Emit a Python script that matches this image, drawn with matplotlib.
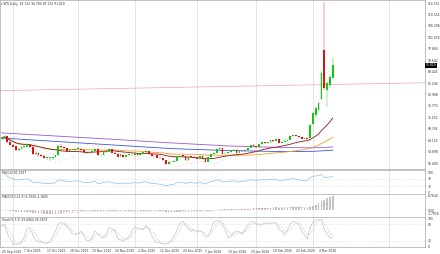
import matplotlib
matplotlib.use('Agg')
import matplotlib.pyplot as plt
import numpy as np
import pandas as pd

# Daily WTI bars
opens = [64.40, 65.00, 65.60, 63.40, 62.30, 61.80, 60.50, 60.90, 61.70, 61.70,
         62.50, 61.50, 58.90, 59.50, 58.70, 58.30, 57.50, 57.50, 57.50, 57.80,
         58.50, 61.80, 61.50, 61.30, 60.20, 60.50, 60.60, 61.00, 61.00, 60.60,
         59.60, 59.40, 59.80, 60.10, 61.00, 58.50, 58.70, 60.10, 59.90, 60.70,
         59.40, 59.10, 58.10, 58.80, 58.00, 58.60, 58.60, 58.60, 59.30, 58.60,
         58.90, 59.70, 60.10, 58.90, 58.20, 58.50, 57.60, 57.40, 56.80, 55.30,
         55.90, 56.10, 56.50, 58.00, 58.40, 58.30, 56.70, 58.10, 57.90, 57.40,
         57.30, 58.30, 57.10, 56.20, 57.80, 59.10, 59.50, 60.90, 61.20, 59.20,
         59.40, 59.60, 60.30, 60.60, 59.40, 60.10, 60.00, 60.60, 61.40, 62.30,
         62.00, 61.50, 62.60, 63.40, 62.90, 63.30, 64.00, 63.70, 64.40, 63.20,
         63.60, 63.90, 64.30, 65.50, 65.90, 65.60, 65.20, 64.60, 65.00, 64.80,
         70.20, 73.40, 75.40, 79.40, 97.40, 82.60, 84.40, 87.132]
highs = [65.30, 66.00, 65.80, 63.70, 62.60, 62.10, 61.30, 62.00, 62.20, 62.90,
         62.70, 61.80, 60.00, 59.70, 59.10, 58.60, 58.00, 57.90, 58.00, 58.70,
         62.40, 62.60, 61.90, 61.40, 60.80, 61.00, 61.20, 61.50, 61.10, 60.80,
         60.10, 60.00, 60.50, 61.30, 61.10, 59.10, 60.30, 60.30, 61.00, 60.80,
         59.90, 59.30, 59.00, 58.90, 58.90, 58.80, 59.10, 59.60, 59.40, 59.20,
         59.90, 60.40, 60.20, 59.10, 58.80, 58.60, 58.10, 57.70, 56.90, 56.30,
         56.60, 56.80, 58.20, 58.60, 58.70, 58.40, 58.30, 58.40, 58.10, 58.00,
         58.60, 58.40, 57.30, 57.90, 59.30, 59.80, 61.30, 61.60, 61.30, 59.70,
         59.90, 60.50, 60.90, 60.70, 60.40, 60.50, 60.90, 61.60, 62.50, 62.60,
         62.10, 62.80, 63.60, 63.60, 63.50, 64.20, 64.30, 64.60, 64.50, 63.80,
         64.10, 64.50, 65.70, 66.20, 66.10, 65.80, 65.40, 65.30, 65.20, 70.00,
         74.50, 76.40, 78.30, 89.60, 115.00, 86.00, 88.20, 94.78]
lows = [64.10, 64.70, 63.10, 61.90, 61.50, 60.30, 60.10, 60.70, 61.20, 61.50,
        61.20, 58.70, 58.50, 57.80, 57.90, 57.20, 56.90, 56.40, 56.90, 57.50,
        58.40, 61.20, 60.90, 59.90, 59.90, 60.00, 60.20, 60.70, 60.00, 59.30,
        59.10, 59.00, 59.60, 60.00, 58.30, 58.10, 58.40, 59.40, 59.60, 59.20,
        58.90, 57.80, 57.70, 57.60, 57.80, 58.30, 58.30, 58.40, 58.40, 58.30,
        58.80, 59.50, 58.70, 58.00, 57.90, 57.40, 57.20, 56.60, 55.00, 55.10,
        55.60, 55.90, 56.40, 57.70, 58.00, 56.50, 56.60, 57.60, 57.10, 57.00,
        57.10, 56.90, 55.80, 56.00, 57.60, 58.80, 59.30, 60.40, 58.90, 58.80,
        59.10, 59.30, 60.00, 59.10, 59.20, 59.60, 59.80, 60.40, 61.20, 61.70,
        61.10, 61.30, 62.40, 62.60, 62.60, 63.00, 63.40, 63.50, 63.00, 62.90,
        63.40, 63.60, 64.10, 65.20, 65.30, 64.90, 64.40, 64.40, 64.20, 64.60,
        69.80, 72.40, 74.80, 78.90, 82.80, 76.30, 83.50, 87.132]
closes = [64.98, 65.72, 63.45, 62.37, 61.78, 60.48, 60.88, 61.69, 61.73, 62.55,
          61.51, 58.90, 59.49, 58.70, 58.27, 57.46, 57.54, 57.52, 57.82, 58.50,
          61.79, 61.50, 61.31, 60.15, 60.48, 60.57, 60.98, 61.05, 60.56, 59.60,
          59.43, 59.75, 60.13, 61.04, 58.49, 58.69, 60.09, 59.91, 60.74, 59.44,
          59.14, 58.06, 58.84, 57.95, 58.65, 58.60, 58.55, 59.32, 58.64, 58.95,
          59.67, 60.08, 58.88, 58.25, 58.46, 57.60, 57.44, 56.82, 55.27, 55.94,
          56.15, 56.52, 58.01, 58.38, 58.35, 56.74, 58.08, 57.95, 57.42, 57.32,
          58.32, 57.13, 56.20, 57.76, 59.12, 59.50, 60.90, 61.20, 59.19, 59.44,
          59.60, 60.34, 60.62, 59.36, 60.10, 60.00, 60.60, 61.40, 62.30, 62.00,
          61.50, 62.60, 63.40, 62.90, 63.30, 64.00, 63.70, 64.40, 63.20, 63.60,
          63.90, 64.30, 65.50, 65.90, 65.60, 65.20, 64.60, 65.00, 64.60, 69.70,
          74.10, 76.00, 77.80, 88.90, 83.40, 85.20, 87.40, 91.829]

date_labels = ['25 Sep 2025', '7 Oct 2025', '17 Oct 2025', '28 Oct 2025', '10 Nov 2025',
               '20 Nov 2025', '2 Dec 2025', '12 Dec 2025', '24 Dec 2025', '7 Jan 2026',
               '19 Jan 2026', '29 Jan 2026', '10 Feb 2026', '20 Feb 2026', '4 Mar 2026']
label_idx = list(range(0, 113, 8))
month_starts = [4, 27, 47, 69, 90, 110, 137]

# long moving averages
ma_idx = [0, 20, 40, 60, 80, 100, 110, 117]
ma_blue = [64.9, 63.6, 62.3, 61.0, 60.3, 59.9, 60.0, 60.4]
ma_purple = [66.8, 65.6, 64.4, 63.1, 62.0, 61.4, 61.3, 61.6]
trend_idx = [-0.6, 149.6]
trend_val = [82.4, 85.3]

price_ticks = [55.68 + 4.218 * k for k in range(15)]

df = pd.DataFrame({'o': opens, 'h': highs, 'l': lows, 'c': closes})
x = np.arange(len(df))
c = df['c']

sma20 = c.rolling(20, min_periods=1).mean()
sma50 = c.rolling(50, min_periods=1).mean()


def psar(h, l, step=0.02, max_af=0.2):
    n = len(h)
    sar = np.zeros(n)
    up = False
    af = step
    ep = l[0]
    sar[0] = h[0]
    for i in range(1, n):
        s = sar[i - 1] + af * (ep - sar[i - 1])
        if up:
            s = min(s, l[i - 1], l[max(i - 2, 0)])
            if l[i] < s:
                up, s, ep, af = False, ep, l[i], step
            elif h[i] > ep:
                ep, af = h[i], min(af + step, max_af)
        else:
            s = max(s, h[i - 1], h[max(i - 2, 0)])
            if h[i] > s:
                up, s, ep, af = True, ep, h[i], step
            elif l[i] < ep:
                ep, af = l[i], min(af + step, max_af)
        sar[i] = s
    return sar


sar = psar(highs, lows)

delta = c.diff()
gain = delta.clip(lower=0).ewm(alpha=1 / 14, adjust=False).mean()
loss = (-delta).clip(lower=0).ewm(alpha=1 / 14, adjust=False).mean()
rsi = 100 - 100 / (1 + gain / loss)

macd = c.ewm(span=12, adjust=False).mean() - c.ewm(span=26, adjust=False).mean()
signal = macd.rolling(9, min_periods=1).mean()

ll = df['l'].rolling(5, min_periods=1).min()
hh = df['h'].rolling(5, min_periods=1).max()
stoch_k = 100 * (c - ll).rolling(3, min_periods=1).sum() / (hh - ll).rolling(3, min_periods=1).sum()
stoch_d = stoch_k.rolling(3, min_periods=1).mean()

W, H = 440, 254
fig = plt.figure(figsize=(W / 100, H / 100), dpi=100)
fs = 2.2
txt = '#333333'


def panel(top, bottom):
    ax = fig.add_axes([0, 1 - bottom / H, 425 / W, (bottom - top) / H])
    ax.set_xlim(-0.6, 149.6)
    for sp in ax.spines.values():
        sp.set_color('#a8a8a8')
        sp.set_linewidth(0.5)
    ax.yaxis.tick_right()
    ax.tick_params(axis='y', labelsize=fs, length=1, width=0.3, pad=0.8, colors=txt)
    ax.tick_params(axis='x', bottom=False, labelbottom=False)
    for m in month_starts:
        ax.axvline(m, color='#dadada', lw=0.5, zorder=0)
    return ax


# main price panel
ax = panel(0, 169)
ax.set_ylim(53.48, 115.84)
ax.set_yticks(price_ticks)
ax.set_yticklabels(['%.3f' % v for v in price_ticks])
ax.plot(trend_idx, trend_val, color='#eaa6b6', lw=0.5, zorder=1)
ax.plot(ma_idx, ma_purple, color='#9b59d0', lw=0.6, zorder=2)
ax.plot(ma_idx, ma_blue, color='#3a56d4', lw=0.6, zorder=2)
ax.plot(x, sma50, color='#f0a030', lw=0.6, zorder=2)
ax.plot(x, sma20, color='#8b1a1a', lw=0.6, zorder=2)
ax.scatter(x, sar, s=0.12, color='#a0a0a0', lw=0, zorder=3)

cols = np.where(df['c'] >= df['o'], '#17c317', '#e01010')
ax.vlines(x, df['l'], df['h'], colors=cols, lw=0.3, zorder=4)
body_lo = np.minimum(df['o'], df['c'])
body_h = np.maximum(np.abs(df['c'] - df['o']), 0.25)
ax.bar(x, body_h, bottom=body_lo, width=0.62, color=cols, lw=0, zorder=5)

last = closes[-1]
ax.text(1.002, last, '%.3f' % last, transform=ax.get_yaxis_transform(), fontsize=fs,
        color='white', va='center', ha='left',
        bbox=dict(boxstyle='square,pad=0.15', fc='black', ec='none'))
ax.text(1 / 425, 1 - 3.5 / 169, '\u25BE WTI,Daily  %.3f %.3f %.3f %.3f'
        % (opens[-1], highs[-1], lows[-1], closes[-1]),
        transform=ax.transAxes, fontsize=fs, color=txt, va='center', ha='left')

# RSI
ax2 = panel(170, 194)
ax2.set_ylim(-10, 115)
ax2.set_yticks([100, 70, 30, 0])
ax2.set_yticklabels(['100', '70', '30', '0'])
for lv in (70, 30):
    ax2.axhline(lv, color='#d0d0d0', lw=0.4, ls=':')
ax2.plot(x, rsi, color='#8cc0ea', lw=0.5)
ax2.text(0.005, 0.88, 'RSI(14) %.4f' % rsi.iloc[-1], transform=ax2.transAxes,
         fontsize=fs, color=txt, va='center')

# MACD
ax3 = panel(194, 217)
lo = min(macd.min(), signal.min())
hi = max(macd.max(), signal.max())
span = hi - lo
ax3.set_ylim(lo - 0.17 * span, hi + 0.11 * span)
ax3.set_yticks([hi, 0, lo])
ax3.set_yticklabels(['%.4f' % hi, '0.00', '%.4f' % lo])
ax3.bar(x, macd, width=0.55, color='#c4c4c4', lw=0)
ax3.plot(x, signal, color='#e08080', lw=0.4, ls=':')
ax3.text(0.005, 0.86, 'MACD(12,26,9) %.4f %.4f' % (macd.iloc[-1], signal.iloc[-1]),
         transform=ax3.transAxes, fontsize=fs, color=txt, va='center')

# Stochastic
ax4 = panel(217, 247)
ax4.set_ylim(-3, 107)
ax4.set_yticks([100, 80, 20, 0])
ax4.set_yticklabels(['100', '80', '20', '0'])
for lv in (80, 20):
    ax4.axhline(lv, color='#d0d0d0', lw=0.4, ls=':')
ax4.plot(x, stoch_k, color='#bdbdbd', lw=0.45)
ax4.plot(x, stoch_d, color='#cfcfcf', lw=0.45, ls='--')
ax4.text(0.005, 0.9, 'Stoch(5,3,3) %.4f %.4f' % (stoch_k.iloc[-1], stoch_d.iloc[-1]),
         transform=ax4.transAxes, fontsize=fs, color=txt, va='center')
ax4.tick_params(axis='x', bottom=True, labelbottom=True, labelsize=fs, length=1,
                width=0.3, pad=0.8, colors=txt)
ax4.set_xticks(label_idx)
ax4.set_xticklabels(date_labels, ha='left')

fig.savefig('out.png', dpi=100)
